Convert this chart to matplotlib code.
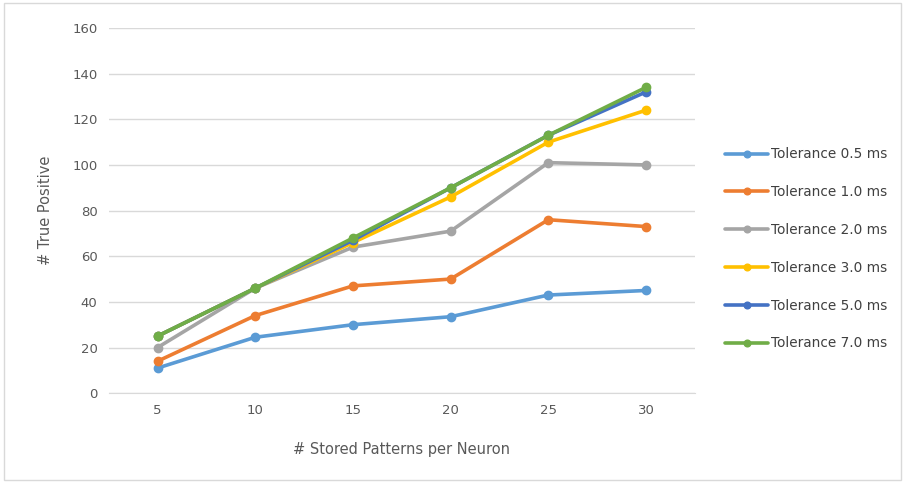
import matplotlib.pyplot as plt
from matplotlib.patches import Rectangle

# Stored patterns per neuron (category axis)
patterns = ['5', '10', '15', '20', '25', '30']

# True positives per tolerance
tol_05 = [11, 24.5, 30, 33.5, 43, 45]
tol_10 = [14, 34, 47, 50, 76, 73]
tol_20 = [20, 46, 64, 71, 101, 100]
tol_30 = [25, 46, 66, 86, 110, 124]
tol_50 = [25, 46, 67, 90, 113, 132]
tol_70 = [25, 46, 68, 90, 113, 134]

labels = ['Tolerance 0.5 ms', 'Tolerance 1.0 ms', 'Tolerance 2.0 ms',
          'Tolerance 3.0 ms', 'Tolerance 5.0 ms', 'Tolerance 7.0 ms']
colors = ['#5B9BD5', '#ED7D31', '#A5A5A5', '#FFC000', '#4472C4', '#70AD47']
series = [tol_05, tol_10, tol_20, tol_30, tol_50, tol_70]

fig = plt.figure(figsize=(9.06, 4.83), dpi=100)
ax = fig.add_axes([0.120, 0.186, 0.647, 0.756])

x = range(len(patterns))
for vals, lab, col in zip(series, labels, colors):
    ax.plot(x, vals, '-o', color=col, lw=2.6, ms=6, label=lab,
            solid_capstyle='round')

ax.set_xlim(-0.5, len(patterns) - 0.5)
ax.set_ylim(0, 160)
ax.set_yticks(range(0, 161, 20))
ax.set_xticks(list(x))
ax.set_xticklabels(patterns)
ax.grid(axis='y', color='#D9D9D9', lw=1)
ax.set_axisbelow(True)
for s in ['top', 'right', 'left']:
    ax.spines[s].set_visible(False)
ax.spines['bottom'].set_color('#D9D9D9')
ax.tick_params(length=0, colors='#595959', labelsize=9.5, pad=8)

ax.set_xlabel('# Stored Patterns per Neuron', color='#595959', fontsize=10.5, labelpad=18)
ax.set_ylabel('# True Positive', color='#595959', fontsize=10.5, labelpad=14)

leg = ax.legend(loc='center left', bbox_to_anchor=(1.03, 0.395), frameon=False,
                fontsize=9.8, labelcolor='#404040', handlelength=3.2,
                handletextpad=0.2, labelspacing=1.75, markerscale=0.8)

fig.patches.append(Rectangle((0.004, 0.006), 0.99, 0.988, transform=fig.transFigure,
                             fill=False, edgecolor='#D9D9D9', lw=1))

fig.savefig('out.png', dpi=100)
